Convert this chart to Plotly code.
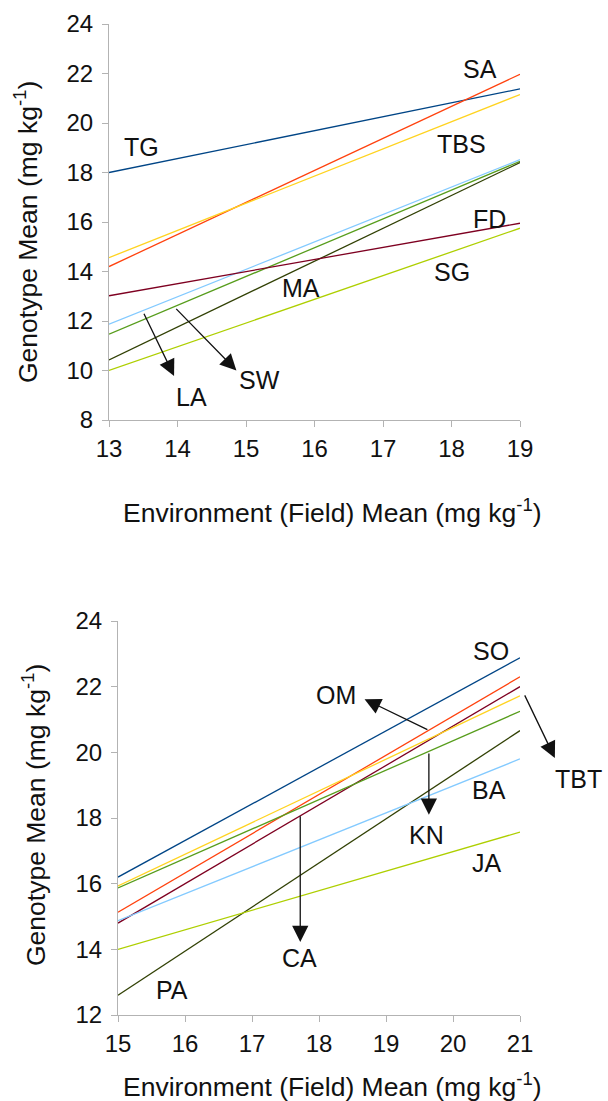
import plotly.graph_objects as go

# Genotype regression lines: genotype mean vs environment (field) mean
top_env = [13, 19]
top_genotypes = ["TG", "SA", "TBS", "LA", "SW", "MA", "FD", "SG"]
top_start = [18.0, 14.2, 14.56, 11.87, 11.47, 10.43, 13.02, 10.0]
top_end = [21.38, 21.97, 21.15, 18.52, 18.45, 18.4, 15.95, 15.75]

bottom_env = [15, 21]
bottom_genotypes = ["SO", "OM", "CA", "TBT", "KN", "PA", "BA", "JA"]
bottom_start = [16.2, 15.13, 14.8, 15.93, 15.87, 12.6, 14.87, 14.0]
bottom_end = [22.88, 22.3, 22.0, 21.72, 21.25, 20.66, 19.8, 17.57]

top_x_ticks = [13, 14, 15, 16, 17, 18, 19]
top_y_ticks = [8, 10, 12, 14, 16, 18, 20, 22, 24]
bottom_x_ticks = [15, 16, 17, 18, 19, 20, 21]
bottom_y_ticks = [12, 14, 16, 18, 20, 22, 24]

palette = {
    "TG": "#004586", "SA": "#ff420e", "TBS": "#ffd320", "LA": "#83caff",
    "SW": "#579d1c", "MA": "#314004", "FD": "#7e0021", "SG": "#aecf00",
    "SO": "#004586", "OM": "#ff420e", "CA": "#7e0021", "TBT": "#ffd320",
    "KN": "#579d1c", "PA": "#314004", "BA": "#83caff", "JA": "#aecf00",
}

FONT = "Liberation Sans, Arial, sans-serif"
INK = "#111111"
AXIS_GREY = "#b3b3b3"
W, H = 608, 1101

# Subplot geometry (paper fractions)
top_xdom = [109 / W, 520 / W]
top_ydom = [1 - 420 / H, 1 - 24 / H]
bot_xdom = [118 / W, 520 / W]
bot_ydom = [1 - 1015 / H, 1 - 621 / H]
top_xrange, top_yrange = [13, 19], [8, 24]
bot_xrange, bot_yrange = [15, 21], [12, 24]

fig = go.Figure()

for name, y0, y1 in zip(top_genotypes, top_start, top_end):
    fig.add_trace(go.Scatter(x=top_env, y=[y0, y1], mode="lines", name=name,
                             line=dict(color=palette[name], width=1.3),
                             xaxis="x", yaxis="y", showlegend=False))

for name, y0, y1 in zip(bottom_genotypes, bottom_start, bottom_end):
    fig.add_trace(go.Scatter(x=bottom_env, y=[y0, y1], mode="lines", name=name,
                             line=dict(color=palette[name], width=1.3),
                             xaxis="x2", yaxis="y2", showlegend=False))

# Genotype labels (direct labels on each panel)
top_labels = {
    "TG": (13.47, 19.03), "SA": (18.42, 22.2), "TBS": (18.15, 19.17),
    "FD": (18.55, 16.12), "SG": (18.0, 14.0), "MA": (15.81, 13.35),
    "LA": (14.21, 8.94), "SW": (15.2, 9.6),
}
bottom_labels = {
    "SO": (20.57, 23.09), "OM": (18.25, 21.75), "TBT": (21.87, 19.2),
    "BA": (20.54, 18.85), "KN": (19.6, 17.47), "JA": (20.51, 16.62),
    "CA": (17.71, 13.75), "PA": (15.8, 12.75),
}

# Pointer arrows: (tail x, tail y, head x, head y)
top_arrows = [(13.5, 12.35, 13.95, 9.78), (13.96, 12.55, 14.86, 10.0)]
bottom_arrows = [(19.64, 20.67, 18.68, 21.62), (21.06, 21.78, 21.52, 19.83),
                 (19.64, 20.01, 19.64, 18.1), (17.72, 18.1, 17.72, 14.22)]


def to_paper(x, y, xdom, ydom, xr, yr):
    """Map data coordinates of a subplot to paper fractions (works outside the range)."""
    px = xdom[0] + (x - xr[0]) / (xr[1] - xr[0]) * (xdom[1] - xdom[0])
    py = ydom[0] + (y - yr[0]) / (yr[1] - yr[0]) * (ydom[1] - ydom[0])
    return px, py


annotations = []


def add_labels(labels, xdom, ydom, xr, yr):
    for name, (lx, ly) in labels.items():
        px, py = to_paper(lx, ly, xdom, ydom, xr, yr)
        annotations.append(dict(x=px, y=py, xref="paper", yref="paper", text=name,
                                showarrow=False, xanchor="center", yanchor="middle",
                                font=dict(family=FONT, size=25, color=INK)))


def add_arrows(arrows, xdom, ydom, xr, yr):
    for tx, ty, hx, hy in arrows:
        hpx, hpy = to_paper(hx, hy, xdom, ydom, xr, yr)
        tpx, tpy = to_paper(tx, ty, xdom, ydom, xr, yr)
        annotations.append(dict(x=hpx, y=hpy, xref="paper", yref="paper",
                                ax=(tpx - hpx) * W, ay=-(tpy - hpy) * H,
                                axref="pixel", ayref="pixel",
                                text="", showarrow=True, arrowhead=2, arrowsize=2.5,
                                arrowwidth=1.3, arrowcolor=INK, standoff=0,
                                startstandoff=0))


add_labels(top_labels, top_xdom, top_ydom, top_xrange, top_yrange)
add_labels(bottom_labels, bot_xdom, bot_ydom, bot_xrange, bot_yrange)
add_arrows(top_arrows, top_xdom, top_ydom, top_xrange, top_yrange)
add_arrows(bottom_arrows, bot_xdom, bot_ydom, bot_xrange, bot_yrange)

x_title = "Environment (Field) Mean (mg kg<sup>-1</sup>)"
y_title = "Genotype Mean (mg kg<sup>-1</sup>)"


def paper_text(px, py, text, angle=0):
    return dict(x=px / W, y=1 - py / H, xref="paper", yref="paper", text=text,
                showarrow=False, xanchor="center", yanchor="middle", textangle=angle,
                font=dict(family=FONT, size=26.5, color=INK))


annotations += [
    paper_text(332, 511, x_title),
    paper_text(332, 1085, x_title),
    paper_text(26, 232, y_title, -90),
    paper_text(34, 815, y_title, -90),
]

axis_common = dict(showgrid=False, zeroline=False, showline=True, linecolor=AXIS_GREY,
                   linewidth=1, ticks="outside", ticklen=6, tickcolor=AXIS_GREY, tickwidth=1,
                   tickfont=dict(family=FONT, size=24, color=INK), fixedrange=True,
                   automargin=False)

fig.update_layout(
    width=W, height=H, autosize=False,
    margin=dict(l=0, r=0, t=0, b=0, pad=0, autoexpand=False),
    paper_bgcolor="white", plot_bgcolor="white",
    xaxis=dict(domain=top_xdom, range=top_xrange, tickvals=top_x_ticks,
               anchor="y", ticklabelstandoff=1, **axis_common),
    yaxis=dict(domain=top_ydom, range=top_yrange, tickvals=top_y_ticks,
               anchor="x", ticklabelstandoff=4, **axis_common),
    xaxis2=dict(domain=bot_xdom, range=bot_xrange, tickvals=bottom_x_ticks,
                anchor="y2", ticklabelstandoff=1, **axis_common),
    yaxis2=dict(domain=bot_ydom, range=bot_yrange, tickvals=bottom_y_ticks,
                anchor="x2", ticklabelstandoff=4, **axis_common),
    annotations=annotations,
)

fig.write_html("out.html")
